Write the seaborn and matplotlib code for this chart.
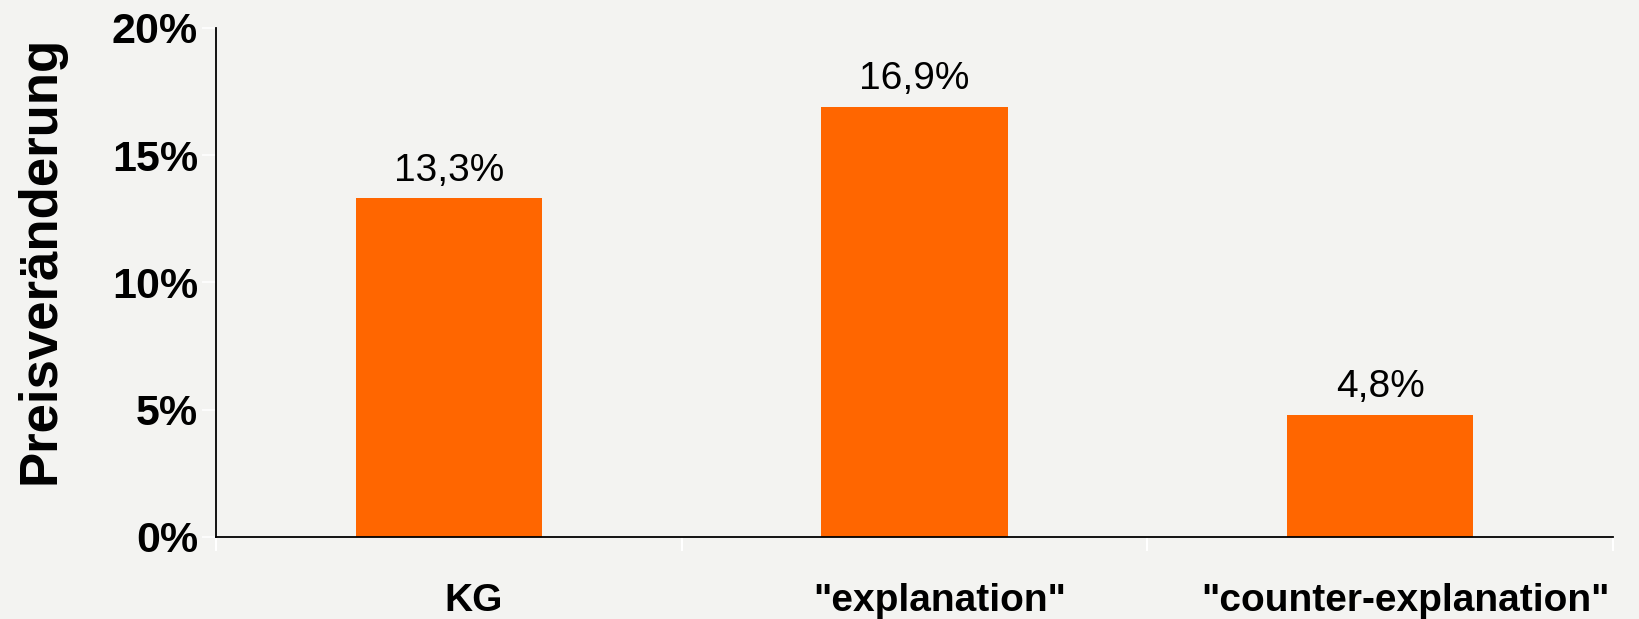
import matplotlib.pyplot as plt
import matplotlib.transforms as mtransforms
import pandas as pd
import seaborn as sns

categories = ['KG', '"explanation"', '"counter-explanation"']
price_change = [13.3, 16.9, 4.8]
y_ticks = [0, 5, 10, 15, 20]
y_tick_labels = ['0%', '5%', '10%', '15%', '20%']

BG = '#F3F3F1'
ORANGE = '#FF6600'


def make_plot(path='out.png'):
    data = pd.DataFrame({'group': categories, 'change': price_change})

    plt.rcParams['font.family'] = ['Liberation Sans', 'DejaVu Sans']
    fig = plt.figure(figsize=(16.39, 6.19), dpi=100, facecolor=BG)
    ax = fig.add_axes([0.1318, 0.1325, 0.8523, 0.8223], facecolor=BG)

    sns.barplot(data=data, x='group', y='change', color=ORANGE, saturation=1,
                width=0.4, ax=ax)

    ax.set_ylim(0, 20)
    ax.set_xlim(-0.5, len(categories) - 0.5)
    ax.set_yticks(y_ticks)
    ax.set_yticklabels(y_tick_labels, fontsize=31, fontweight='bold')
    ax.tick_params(axis='y', length=10, width=1.2, color='white', pad=3)

    # category labels centred, separators as white minor ticks
    ax.set_xticks(range(len(categories)))
    ax.set_xticklabels(categories, fontsize=28, fontweight='bold')
    ax.tick_params(axis='x', which='major', length=0, pad=33)
    ax.set_xticks([i - 0.5 for i in range(len(categories) + 1)], minor=True)
    ax.tick_params(axis='x', which='minor', length=10, width=1.5, color='white')
    shift = mtransforms.ScaledTranslation(0.25, 0, fig.dpi_scale_trans)
    for lab in ax.get_xticklabels():
        lab.set_transform(lab.get_transform() + shift)

    for side in ['top', 'right']:
        ax.spines[side].set_visible(False)
    for side in ['left', 'bottom']:
        ax.spines[side].set_color('black')
        ax.spines[side].set_linewidth(1.3)

    labels = ['{:.1f}%'.format(v).replace('.', ',') for v in price_change]
    ax.bar_label(ax.containers[0], labels=labels, padding=7, fontsize=28)

    ax.set_xlabel('')
    ax.set_ylabel('Preisveränderung', fontsize=38, fontweight='bold')
    ax.yaxis.set_label_coords(-0.108, 0.544)

    fig.savefig(path, dpi=100, facecolor=BG)
    plt.close()


make_plot()
